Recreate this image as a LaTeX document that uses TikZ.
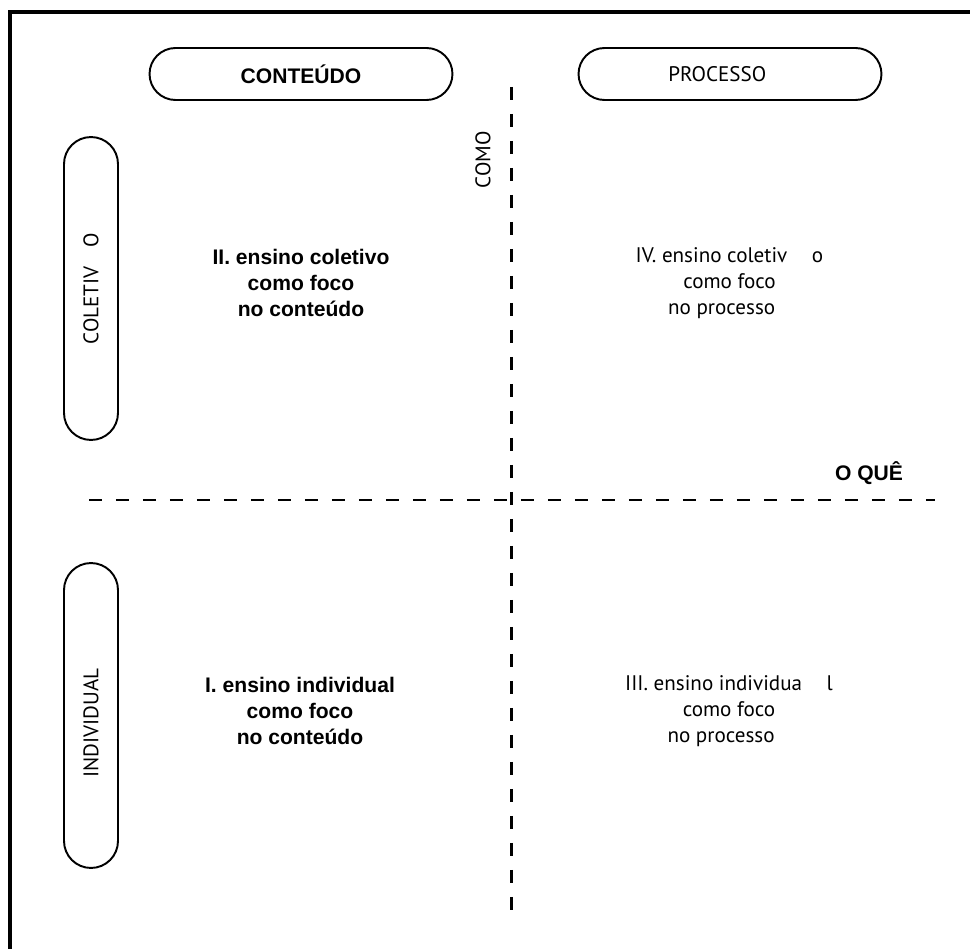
\documentclass[tikz,border=0pt]{standalone}
\usepackage{fontspec}
\setmainfont{PT Sans}
\newfontfamily\helv{Liberation Sans}
\usetikzlibrary{positioning}

\begin{document}
\begin{tikzpicture}[x=0.02cm, y=-0.02cm,
	pill/.style={draw, line width=1.1pt, rounded corners=0.52cm, minimum width=6.06cm, minimum height=1.04cm, inner sep=0pt, font=\fontsize{12}{14.7}\selectfont},
	vpill/.style={pill, rotate=90, minimum height=1.08cm, rounded corners=0.54cm},
	axisline/.style={line width=1.7pt, dash pattern=on 0.26cm off 0.28cm},
	quad/.style={align=center, inner sep=0pt, font=\fontsize{12}{14.7}\selectfont},
	quadbold/.style={quad, font=\fontsize{12}{14.7}\selectfont\helv\bfseries}]
			\useasboundingbox (0,0) rectangle (970,949);
			\draw[line width=1.9pt] (970,12) -- (10,12) -- (10,949);
			\node[pill, font=\fontsize{12}{14.7}\selectfont\helv\bfseries] (conteudo) at (301,74) {CONTEÚDO};
			\node[pill] (processo) at (730,74) {PROCESSO\hspace*{14.5pt}};
			\node[vpill, minimum width=6.06cm] (coletivo) at (91,288.5) {COLETIV\hspace{11pt}O};
			\node[vpill, minimum width=6.10cm] (individual) at (91,715.5) {INDIVIDUAL\hspace*{8.5pt}};
			\coordinate (Vtop) at (511,87);
			\coordinate (Vbot) at (511,915);
			\coordinate (Hleft) at (89,500);
			\coordinate (Hright) at (935,500);
			\draw[axisline] (Vtop) -- (Vbot);
			\draw[axisline] (Hleft) -- (Hright);
			\node[quad, rotate=90] (como) at (483,160) {COMO};
			\node[quadbold] (oque) at (869,473) {O QUÊ};
			\node[quadbold] (q2) at (301,283) {II. ensino coletivo\\como foco\\no conteúdo};
			\node[quadbold] (q1) at (300,711) {I. ensino individual\\como foco\\no conteúdo};
			\node[quad] (q4) at (729.5,283) {IV. ensino coletiv\hspace{14pt}o\\como foco\hspace*{9pt}\\no processo\hspace*{9pt}};
			\node[quad] (q3) at (729,711) {III. ensino individua\hspace{14pt}l\\como foco\hspace*{9pt}\\no processo\hspace*{9pt}};
		\end{tikzpicture}
\end{document}
